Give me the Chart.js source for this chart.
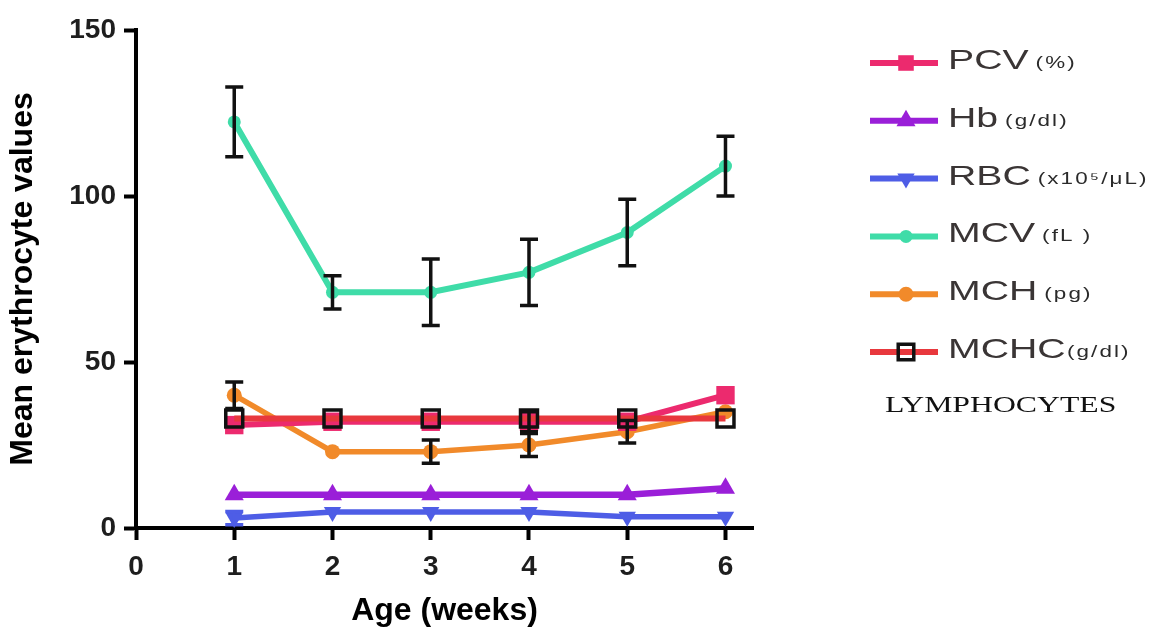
<!DOCTYPE html>
<html><head><meta charset="utf-8">
<script src="https://cdn.jsdelivr.net/npm/chart.js@4.4.1/dist/chart.umd.min.js"></script>
<style>html,body{margin:0;padding:0;background:#fff;}#wrap{width:1160px;height:630px;position:relative;}</style>
</head><body><div id="wrap"><canvas id="c" width="1160" height="630"></canvas></div>
<script>
// ---- data ----
const weeks = [1, 2, 3, 4, 5, 6];
const xTickValues = [0, 1, 2, 3, 4, 5, 6];
const yTickValues = [0, 50, 100, 150];
const pcv = [31, 32, 32, 32, 32, 40];
const pcvErr = [0, 0, 0, 3, 0, 0];
const hb = [10, 10, 10, 10, 10, 12];
const hbErr = [0, 0, 0, 0, 0, 0];
const rbc = [3, 4.8, 4.8, 4.8, 3.4, 3.4];
const rbcErr = [2, 0, 0, 0, 0, 0];
const mcv = [122.3, 71, 71, 77, 89, 109];
const mcvErr = [10.5, 5, 10, 10, 10, 9];
const mch = [40, 23, 23, 25, 29, 35];
const mchErr = [4, 0, 3.5, 3.5, 3.4, 0];
const mchc = [33, 33, 33, 33, 33, 33];
const mchcErr = [0, 0, 0, 0, 0, 0];
const seriesNames = ['PCV', 'Hb', 'RBC', 'MCV', 'MCH', 'MCHC'];
const seriesUnits = ['(%)', '(g/dl)', '(x10\u2075/\u03bcL)', '(fL )', '(pg)', '(g/dl)'];
const legendNote = 'LYMPHOCYTES';
const xTitle = 'Age (weeks)';
const yTitle = 'Mean erythrocyte values';

const pts = vals => weeks.map((w, i) => ({x: w, y: vals[i]}));

const datasets = [
  {label: seriesNames[0], data: pts(pcv), errors: pcvErr, errorColor: '#111',
   borderColor: '#ec2a6e', backgroundColor: '#ec2a6e', borderWidth: 6,
   pointStyle: 'rect', pointRadius: 13, pointBackgroundColor: '#ec2a6e', pointBorderColor: '#ec2a6e', pointBorderWidth: 0, order: 2},
  {label: seriesNames[1], data: pts(hb), errors: hbErr, errorColor: '#111',
   borderColor: '#9a1fd8', backgroundColor: '#9a1fd8', borderWidth: 6.5,
   pointStyle: 'triangle', pointRadius: 11, pointBackgroundColor: '#9a1fd8', pointBorderColor: '#9a1fd8', pointBorderWidth: 0, order: 4},
  {label: seriesNames[2], data: pts(rbc), errors: rbcErr, errorColor: '#4e5de6',
   borderColor: '#4e5de6', backgroundColor: '#4e5de6', borderWidth: 5.5,
   pointStyle: 'triangle', pointRotation: 180, pointRadius: 10, pointBackgroundColor: '#4e5de6', pointBorderColor: '#4e5de6', pointBorderWidth: 0, order: 5},
  {label: seriesNames[3], data: pts(mcv), errors: mcvErr, errorColor: '#111',
   borderColor: '#3fdca8', backgroundColor: '#3fdca8', borderWidth: 6,
   pointStyle: 'circle', pointRadius: 6.5, pointBackgroundColor: '#3fdca8', pointBorderColor: '#3fdca8', pointBorderWidth: 0, order: 0},
  {label: seriesNames[4], data: pts(mch), errors: mchErr, errorColor: '#111',
   borderColor: '#f18a2a', backgroundColor: '#f18a2a', borderWidth: 5.5,
   pointStyle: 'circle', pointRadius: 7.5, pointBackgroundColor: '#f18a2a', pointBorderColor: '#f18a2a', pointBorderWidth: 0, order: 3},
  {label: seriesNames[5], data: pts(mchc), errors: mchcErr, errorColor: '#111',
   borderColor: '#e8383d', backgroundColor: 'rgba(0,0,0,0)', borderWidth: 6,
   pointStyle: 'rect', pointRadius: 12, pointBackgroundColor: 'rgba(0,0,0,0)', pointBorderColor: '#111', pointBorderWidth: 3.5, order: 1}
];

function drawMarker(ctx, ds, x, y) {
  const r = ds.pointRadius, style = ds.pointStyle, rot = (ds.pointRotation || 0) * Math.PI / 180;
  ctx.save();
  ctx.translate(x, y);
  ctx.rotate(rot);
  ctx.beginPath();
  if (style === 'rect') {
    const s = r * Math.SQRT1_2;
    ctx.rect(-s, -s, 2 * s, 2 * s);
  } else if (style === 'triangle') {
    ctx.moveTo(0, -r);
    ctx.lineTo(r * Math.cos(Math.PI / 6), r / 2);
    ctx.lineTo(-r * Math.cos(Math.PI / 6), r / 2);
    ctx.closePath();
  } else {
    ctx.arc(0, 0, r, 0, Math.PI * 2);
  }
  ctx.fillStyle = ds.pointBackgroundColor;
  ctx.fill();
  if (ds.pointBorderWidth) {
    ctx.lineWidth = ds.pointBorderWidth;
    ctx.strokeStyle = ds.pointBorderColor;
    ctx.stroke();
  }
  ctx.restore();
}

const errorBarPlugin = {
  id: 'errorBars',
  afterDatasetsDraw(chart) {
    const ctx = chart.ctx, xs = chart.scales.x, ys = chart.scales.y;
    chart.data.datasets.forEach(ds => {
      ds.data.forEach((p, i) => {
        const e = ds.errors[i];
        if (!e) return;
        const px = xs.getPixelForValue(p.x);
        const yTop = ys.getPixelForValue(p.y + e);
        const yBot = ys.getPixelForValue(p.y - e);
        ctx.save();
        ctx.strokeStyle = ds.errorColor;
        ctx.lineWidth = 3.5;
        ctx.beginPath();
        ctx.moveTo(px, yTop); ctx.lineTo(px, yBot);
        ctx.moveTo(px - 9, yTop); ctx.lineTo(px + 9, yTop);
        ctx.moveTo(px - 9, yBot); ctx.lineTo(px + 9, yBot);
        ctx.stroke();
        ctx.restore();
      });
    });
  }
};

const sideLegendPlugin = {
  id: 'sideLegend',
  afterDraw(chart) {
    const ctx = chart.ctx;
    const x0 = 870, x1 = 938, mx = 906, tx = 948, y0 = 63, gap = 57.8;
    chart.data.datasets.forEach((ds, i) => {
      const y = y0 + gap * i;
      ctx.save();
      ctx.strokeStyle = ds.borderColor;
      ctx.lineWidth = 6;
      ctx.beginPath(); ctx.moveTo(x0, y); ctx.lineTo(x1, y); ctx.stroke();
      ctx.restore();
      const mds = Object.assign({}, ds, {pointRadius: Math.min(ds.pointRadius, 11)});
      drawMarker(ctx, mds, mx, y);
      ctx.save();
      ctx.translate(tx, y + 6);
      ctx.scale(1.4, 1);
      ctx.fillStyle = '#3a3535';
      ctx.textBaseline = 'alphabetic';
      ctx.font = '28px "Liberation Sans", Arial, sans-serif';
      ctx.fillText(seriesNames[i], 0, 0);
      const w = ctx.measureText(seriesNames[i]).width;
      ctx.font = '16px "Liberation Sans", Arial, sans-serif';
      ctx.letterSpacing = '1.5px';
      ctx.fillStyle = '#2a2a2a';
      ctx.fillText(seriesUnits[i], w + (i === 5 ? 1 : 5), -1);
      ctx.restore();
    });
    ctx.save();
    ctx.translate(885, 412);
    ctx.scale(1.38, 1);
    ctx.fillStyle = '#111';
    ctx.font = '23px "Liberation Serif", "Times New Roman", serif';
    ctx.fillText(legendNote, 0, 0);
    ctx.restore();
  }
};

const tickFont = {family: '"Liberation Sans", Arial, sans-serif', size: 28, weight: 'bold'};
const titleFont = {family: '"Liberation Sans", Arial, sans-serif', size: 32, weight: 'bold'};

new Chart(document.getElementById('c'), {
  type: 'line',
  data: {datasets},
  options: {
    responsive: false,
    animation: false,
    events: [],
    layout: {padding: {left: 0, top: 30, right: 407, bottom: 0}},
    plugins: {legend: {display: false}, tooltip: {enabled: false}},
    elements: {line: {tension: 0}},
    scales: {
      x: {
        type: 'linear', min: 0, max: 6.28,
        afterBuildTicks: s => { s.ticks = xTickValues.map(v => ({value: v})); },
        afterFit: s => { s.height = 102; },
        ticks: {font: tickFont, color: '#1e1e1e', padding: 10, maxRotation: 0, autoSkip: false},
        grid: {drawOnChartArea: false, drawTicks: true, tickLength: 12, tickWidth: 4, tickColor: '#000'},
        border: {display: true, color: '#000', width: 4},
        title: {display: true, text: xTitle, font: titleFont, color: '#000', padding: {top: 0, bottom: 0}}
      },
      y: {
        type: 'linear', min: 0, max: 150,
        afterBuildTicks: s => { s.ticks = yTickValues.map(v => ({value: v})); },
        afterFit: s => { s.width = 136; },
        ticks: {font: tickFont, color: '#1e1e1e', padding: 8},
        grid: {drawOnChartArea: false, drawTicks: true, tickLength: 12, tickWidth: 4, tickColor: '#000'},
        border: {display: true, color: '#000', width: 4},
        title: {display: true, text: yTitle, font: titleFont, color: '#000', padding: {top: 4, bottom: 0}}
      }
    }
  },
  plugins: [errorBarPlugin, sideLegendPlugin]
});
</script></body></html>
